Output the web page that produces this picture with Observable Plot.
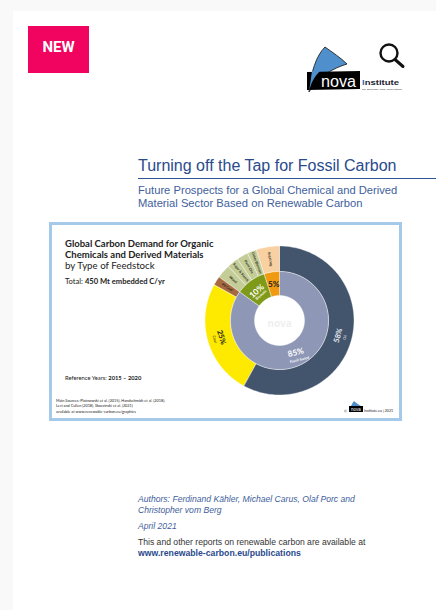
<!DOCTYPE html>
<html>
<head>
<meta charset="utf-8">
<script src="https://cdn.jsdelivr.net/npm/d3@7"></script>
<script src="https://cdn.jsdelivr.net/npm/@observablehq/plot@0.6"></script>
<style>
  html, body { margin: 0; padding: 0; background: #f9f9f9; }
  #page { position: relative; width: 436px; height: 610px; overflow: hidden; font-family: "Liberation Sans", sans-serif; }
  #sheet { position: absolute; left: 13px; top: 11px; right: 0; bottom: 0; background: #fff; }
  .t { position: absolute; white-space: nowrap; line-height: 1; }
  .card { font-family: Lato, "Open Sans", sans-serif; color: #222; }
  #badge { position: absolute; left: 28px; top: 26px; width: 61px; height: 47px; background: #f0045f; color: #fff;
           font: bold 15px/42px Roboto, sans-serif; text-align: center; }
  #rule { position: absolute; left: 138px; right: 0; top: 178px; height: 1px; background: #2f5496; }
  #frame { position: absolute; left: 49px; top: 222px; width: 347px; height: 193px; border: 3px solid #a5c9e8; background: #fff; }
  #chart { position: absolute; left: 199px; top: 240px; }
  #chart svg { display: block; background: transparent; }
  svg.deco { position: absolute; overflow: visible; }
</style>
</head>
<body>
<div id="page">
  <div id="sheet"></div>
  <div id="badge">NEW</div>

  <svg class="deco" style="left:0;top:0" width="436" height="110">
    <circle cx="389" cy="53" r="8.5" fill="none" stroke="#111" stroke-width="2.4"/>
    <path d="M395 59.5 L403 66.5" stroke="#111" stroke-width="3" stroke-linecap="round"/>
    <path d="M309 92 C311 72 316 56 325 47 C332 52 341 58 347 64 C334 68 318 76 309 92 Z" fill="#4f8fcb" stroke="#111" stroke-width="0.8"/>
    <path d="M307 72 L360 71 L360 89 L307 90 Z" fill="#000"/>
    <path d="M309 92 C311 82 315 76 320 71 L312 71 Z" fill="#4f8fcb"/>
    <text x="321" y="86.500" font-family="Liberation Sans" font-size="16" fill="#fff" textLength="35" lengthAdjust="spacingAndGlyphs">nova</text>
    <text x="362" y="85" font-family="Liberation Sans" font-size="7.500" font-weight="bold" fill="#223" textLength="37" lengthAdjust="spacingAndGlyphs"><tspan fill="#2f6fb5">I</tspan>nstitute</text>
    <text x="362" y="89.500" font-family="Liberation Sans" font-size="2.400" fill="#333" textLength="40" lengthAdjust="spacingAndGlyphs">for Ecology and Innovation</text>
  </svg>

  <div class="t" style="left:138px;top:158px;font-size:16px;color:#294a8c">Turning off the Tap for Fossil Carbon</div>
  <div id="rule"></div>
  <div class="t" style="left:138px;top:185px;font-size:11.2px;color:#41609c">Future Prospects for a Global Chemical and Derived</div>
  <div class="t" style="left:138px;top:198px;font-size:11.2px;color:#41609c">Material Sector Based on Renewable Carbon</div>

  <div id="frame"></div>
  <div class="t card" style="left:65px;top:239px;font-size:9.5px;font-weight:700">Global Carbon Demand for Organic</div>
  <div class="t card" style="left:65px;top:250px;font-size:9.5px;font-weight:700">Chemicals and Derived Materials</div>
  <div class="t card" style="left:65px;top:261px;font-size:9.7px">by Type of Feedstock</div>
  <div class="t card" style="left:65px;top:278px;font-size:7.6px">Total: <b>450 Mt embedded C/yr</b></div>
  <div class="t card" style="left:65px;top:375px;font-size:5.8px">Reference Years: <b>2015 – 2020</b></div>
  <div class="t card" style="left:56px;top:399px;font-size:3.8px">Main Sources: Plotnowski et al. (2015), Handschmidt et al. (2018),</div>
  <div class="t card" style="left:56px;top:404px;font-size:3.8px">Levi and Cullen (2018), Skoczinski et al. (2021)</div>
  <div class="t card" style="left:56px;top:410px;font-size:3.8px">available at www.renewable-carbon.eu/graphics</div>
  <svg class="deco" style="left:0;top:0" width="436" height="430">
    <text x="344" y="413" font-size="3.600" font-family="Lato" fill="#222">©</text>
    <path d="M349 411 C351 406 352 403 354 401 C356 403 358 404 361 406 C356 407 352 408 349 411 Z" fill="#4f8fcb"/>
    <rect x="349" y="406" width="14" height="6" fill="#000"/>
    <text x="351" y="411" font-size="4.500" font-family="Liberation Sans" fill="#fff">nova</text>
    <text x="364" y="412" font-size="3.600" font-family="Lato" fill="#222">Institute.eu | 2021</text>
  </svg>

  <div id="chart"></div>

  <div class="t" style="left:138px;top:495px;font-size:8.6px;font-style:italic;color:#41609c">Authors: Ferdinand Kähler, Michael Carus, Olaf Porc and</div>
  <div class="t" style="left:138px;top:505.5px;font-size:8.6px;font-style:italic;color:#41609c">Christopher vom Berg</div>
  <div class="t" style="left:138px;top:522px;font-size:8.6px;font-style:italic;color:#41609c">April 2021</div>
  <div class="t" style="left:138px;top:538px;font-size:8.6px;color:#333">This and other reports on renewable carbon are available at</div>
  <div class="t" style="left:138px;top:549px;font-size:8.7px;font-weight:700;color:#294a8c">www.renewable-carbon.eu/publications</div>
</div>

<script>
// Feedstock shares, in percent, running clockwise from twelve o'clock.
const outerNames = ["Oil", "Coal", "Pit Coal", "Wood", "Sugar & Starch", "Plant Oils", "Other Biomass", "Recycling"];
const outerValues = [58, 25, 2, 3, 2.5, 2.5, 2, 5];
const outerShown = ["58%", "25%", "", "", "", "", "", ""];
const outerColors = ["#43546d", "#fdea00", "#a7693f", "#c4cd97", "#c4cd97", "#c4cd97", "#c4cd97", "#f9d0a2"];
const outerInk = ["#e8ecf2", "#222", "#222", "#2c2c20", "#2c2c20", "#2c2c20", "#2c2c20", "#2c2c20"];

const innerNames = ["Fossil-based", "Biomass", "Recycling"];
const innerValues = [85, 10, 5];
const innerShown = ["85%", "10%", "5%"];
const innerColors = ["#8e98b6", "#7f9a18", "#f09a12"];
const innerInk = ["#fff", "#fff", "#222"];

// Ring radii on the chart's own x/y scales.
const hole = 25, innerEdge = 49, outerEdge = 74.5;

// Walks a ring of shares and returns one polygon outline plus one mid-angle per slice.
function ring(names, values, r0, r1, colors) {
  const total = d3.sum(values);
  const outline = [], labels = [];
  let acc = 0;
  names.forEach((name, i) => {
    const a0 = acc / total * 2 * Math.PI;
    acc += values[i];
    const a1 = acc / total * 2 * Math.PI;
    const n = Math.max(2, Math.ceil((a1 - a0) * 40));
    const push = (r, a) => outline.push({key: `${r1}-${i}`, fill: colors[i], x: r * Math.sin(a), y: r * Math.cos(a)});
    for (let k = 0; k <= n; k++) push(r1, a0 + (a1 - a0) * k / n);
    for (let k = n; k >= 0; k--) push(r0, a0 + (a1 - a0) * k / n);
    labels.push({i, mid: (a0 + a1) / 2, deg: (a0 + a1) / 2 * 180 / Math.PI});
  });
  return {outline, labels};
}

const outer = ring(outerNames, outerValues, innerEdge, outerEdge, outerColors);
const inner = ring(innerNames, innerValues, hole, innerEdge, innerColors);

const polar = (r, a) => ({x: r * Math.sin(a), y: r * Math.cos(a)});

// Oil and Coal carry a percentage and a name, both set along the ring.
const bigOuter = outer.labels.filter(l => outerShown[l.i]);
const outerPct = bigOuter.map(l => ({...polar(60.5, l.mid), text: outerShown[l.i], ink: outerInk[l.i], rotate: l.deg - 180}));
const outerName = bigOuter.map(l => ({...polar(67.5, l.mid), text: outerNames[l.i], ink: outerInk[l.i], rotate: l.deg - 180}));

// The narrow slices only have room for a name running along the radius;
// Recycling sits almost upright, so it reads bottom to top.
const smallOuter = outer.labels.filter(l => !outerShown[l.i]).map(l => ({
  ...polar(62, l.mid), text: outerNames[l.i], ink: outerInk[l.i],
  rotate: outerNames[l.i] === "Recycling" ? l.deg - 90 : l.deg - 270
}));

const innerTilt = [-14, -42, 0];
const innerPct = inner.labels.map(l => ({
  ...polar(l.i === 0 ? 36 : 37, l.mid + (l.i === 1 ? -0.03 : 0)),
  text: innerShown[l.i], ink: innerInk[l.i], rotate: innerTilt[l.i]
}));
const innerLabel = inner.labels.filter(l => l.i < 2).map(l => ({
  ...polar(l.i === 0 ? 44 : 31.5, l.mid), text: innerNames[l.i], ink: innerInk[l.i], rotate: innerTilt[l.i]
}));

const textMark = (rows, fontSize, fontWeight) => Plot.text(rows, {
  x: "x", y: "y", text: "text", fill: "ink", rotate: "rotate",
  fontSize, fontWeight, fontFamily: "Lato, 'Open Sans', sans-serif"
});
const slices = rows => Plot.line(rows, {
  x: "x", y: "y", z: "key", fill: "fill", stroke: "#fff", strokeWidth: 0.4, curve: "linear-closed"
});

const chart = Plot.plot({
  width: 160, height: 160, margin: 0,
  x: {domain: [-80, 80], axis: null},
  y: {domain: [-80, 80], axis: null},
  color: {type: "identity"},
  marks: [
    slices(outer.outline),
    slices(inner.outline),
    textMark(outerPct, 7.5, 700),
    textMark(outerName, 3.8, 400),
    textMark(smallOuter, 3.5, 700),
    textMark(innerPct, 8.2, 700),
    textMark(innerLabel, 3.6, 700),
    // Faint institute mark in the middle of the ring.
    Plot.text(["nova"], {x: [0], y: [-3], text: d => d, fill: "#efefef", fontSize: 10, fontWeight: 700})
  ]
});
document.getElementById("chart").appendChild(chart);
</script>
</body>
</html>
